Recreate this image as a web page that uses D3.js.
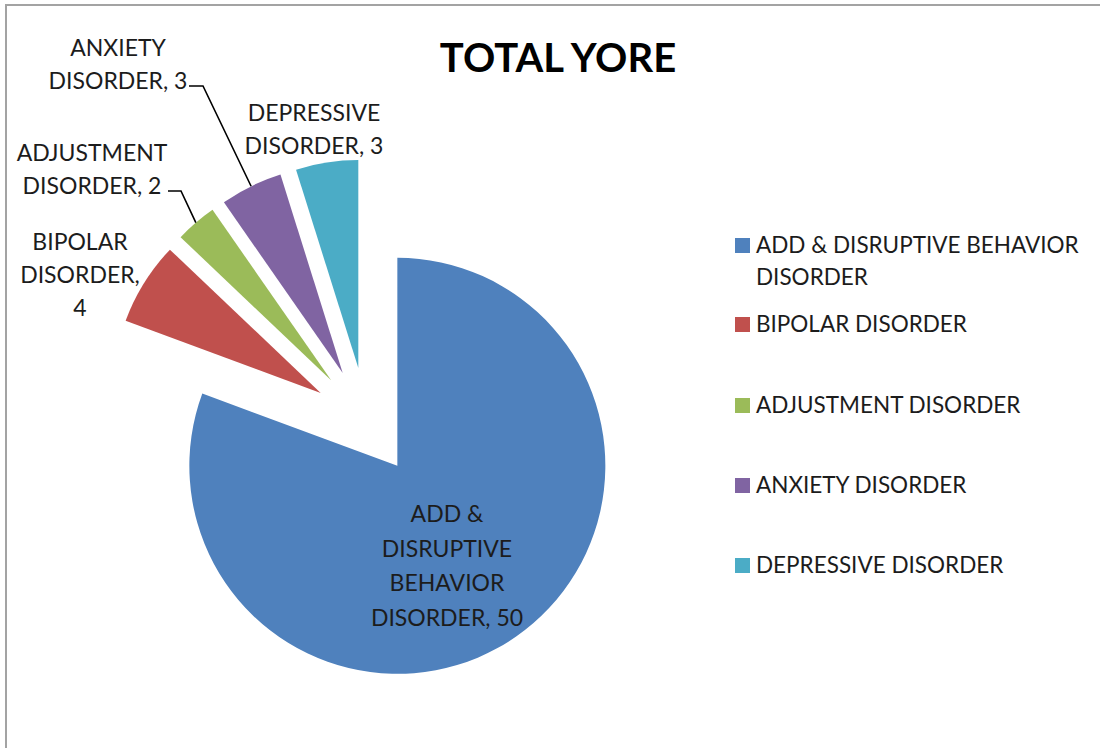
<!DOCTYPE html>
<html>
<head>
<meta charset="utf-8">
<script src="https://cdn.jsdelivr.net/npm/d3@7"></script>
<style>
  body { margin: 0; background: #fff; }
  svg { display: block; }
  text { font-family: Lato, "Open Sans", sans-serif; fill: #1c1c1c; }
</style>
</head>
<body>
<div id="chart"></div>
<script>
var categories = ['ADD & DISRUPTIVE BEHAVIOR DISORDER', 'BIPOLAR DISORDER', 'ADJUSTMENT DISORDER', 'ANXIETY DISORDER', 'DEPRESSIVE DISORDER'];
var values = [50, 4, 2, 3, 3];
var colors = ['#4f81bd', '#c0504d', '#9bbb59', '#8064a2', '#4bacc6'];
var legendLines = [['ADD & DISRUPTIVE BEHAVIOR', 'DISORDER'], ['BIPOLAR DISORDER'], ['ADJUSTMENT DISORDER'], ['ANXIETY DISORDER'], ['DEPRESSIVE DISORDER']];
var labelLines = [['ADD &', 'DISRUPTIVE', 'BEHAVIOR', 'DISORDER, 50'], ['BIPOLAR', 'DISORDER,', '4'], ['ADJUSTMENT', 'DISORDER, 2'], ['ANXIETY', 'DISORDER, 3'], ['DEPRESSIVE', 'DISORDER, 3']];

var width = 1100, height = 748;
var cx = 366.5, cy = 421.5, radius = 208, explode = 54;

// label anchor (center x, first baseline) for each slice, leader line start if any
var labelPos = [
  {x: 447, y: 522, lead: null},
  {x: 80, y: 250, lead: null},
  {x: 92, y: 161, lead: [[168, 191], [181, 191]]},
  {x: 118, y: 56, lead: [[189, 86], [203, 86]]},
  {x: 314, y: 121, lead: null}
];

var svg = d3.select('#chart').append('svg')
  .attr('width', width)
  .attr('height', height);

// chart border (cut at right and bottom)
svg.append('path')
  .attr('d', 'M6,' + height + 'V5H' + width)
  .attr('fill', 'none')
  .attr('stroke', '#a3a3a3')
  .attr('stroke-width', 2);

svg.append('text')
  .attr('x', 558)
  .attr('y', 72)
  .attr('text-anchor', 'middle')
  .attr('font-size', 40)
  .attr('font-weight', 'bold')
  .style('fill', '#000')
  .text('TOTAL YORE');

var pie = d3.pie().sort(null).value(function(d) { return d; })(values);
var arc = d3.arc().innerRadius(0).outerRadius(radius);

function dir(d) {
  var a = (d.startAngle + d.endAngle) / 2;
  return [Math.sin(a), -Math.cos(a)];
}

var g = svg.append('g').attr('transform', 'translate(' + cx + ',' + cy + ')');

g.selectAll('.slice')
  .data(pie)
  .enter().append('path')
    .attr('class', 'slice')
    .attr('fill', function(d, i) { return colors[i]; })
    .attr('transform', function(d) {
      var v = dir(d);
      return 'translate(' + (v[0] * explode) + ',' + (v[1] * explode) + ')';
    })
    .attr('d', arc);

// leader lines to outer arc midpoints
pie.forEach(function(d, i) {
  var p = labelPos[i];
  if (!p.lead) return;
  var v = dir(d);
  var end = [cx + v[0] * (explode + radius), cy + v[1] * (explode + radius)];
  svg.append('polyline')
    .attr('points', p.lead.concat([end]).map(function(q) { return q.join(','); }).join(' '))
    .attr('fill', 'none')
    .attr('stroke', '#000')
    .attr('stroke-width', 1.6);
});

// data labels
labelLines.forEach(function(lines, i) {
  var p = labelPos[i];
  var t = svg.append('text')
    .attr('text-anchor', 'middle')
    .attr('font-size', 23);
  lines.forEach(function(l, k) {
    t.append('tspan')
      .attr('x', p.x)
      .attr('y', p.y + k * (i == 0 ? 34.5 : 33))
      .text(l);
  });
});

// legend
var legendY = [253, 332, 413, 493, 573];
var legend = svg.append('g');
categories.forEach(function(c, i) {
  legend.append('rect')
    .attr('x', 735)
    .attr('y', legendY[i] - 15)
    .attr('width', 15)
    .attr('height', 15)
    .attr('fill', colors[i]);
  var t = legend.append('text').attr('font-size', 22.5);
  legendLines[i].forEach(function(l, k) {
    t.append('tspan')
      .attr('x', 756)
      .attr('y', legendY[i] + k * 32)
      .text(l);
  });
});
</script>
</body>
</html>
